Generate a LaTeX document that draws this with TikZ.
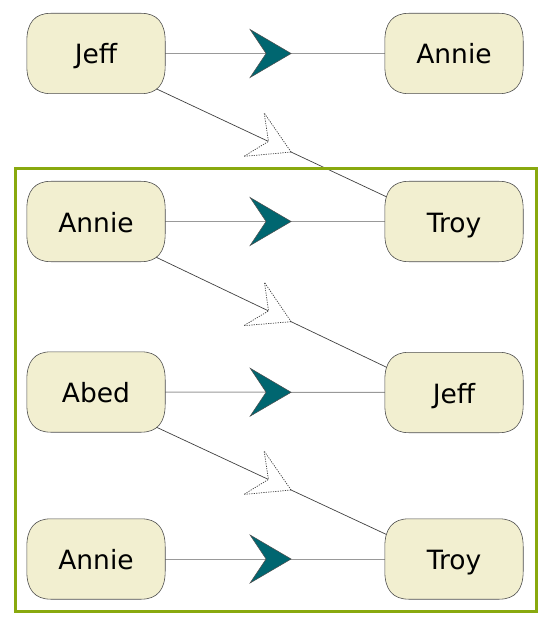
\documentclass[tikz,border=0pt]{standalone}
\usepackage{fontspec}
\setmainfont{DejaVu Sans}
\usetikzlibrary{decorations.markings,backgrounds}
\definecolor{nodefill}{HTML}{F2EFD0}
\definecolor{nodeline}{HTML}{4D4D4D}
\definecolor{arrowteal}{HTML}{006670}
\definecolor{framegreen}{HTML}{89A90F}
\definecolor{hline}{HTML}{999999}
\newcommand\pillpath[1]{%
  ([xshift=24pt]#1.north west) -- ([xshift=-24pt]#1.north east)
  .. controls ([xshift=-8pt]#1.north east) and ([yshift=-9.5pt]#1.north east) .. ([yshift=-28pt]#1.north east)
  -- ([yshift=28pt]#1.south east)
  .. controls ([yshift=9.5pt]#1.south east) and ([xshift=-8pt]#1.south east) .. ([xshift=-24pt]#1.south east)
  -- ([xshift=24pt]#1.south west)
  .. controls ([xshift=8pt]#1.south west) and ([yshift=9.5pt]#1.south west) .. ([yshift=28pt]#1.south west)
  -- ([yshift=-28pt]#1.north west)
  .. controls ([yshift=-9.5pt]#1.north west) and ([xshift=8pt]#1.north west) .. ([xshift=24pt]#1.north west)
  -- cycle}
\begin{document}
\begin{tikzpicture}[x=1pt,y=-1pt,
  person/.style={minimum width=138pt, minimum height=80pt, inner sep=0pt,
    text height=21pt, text depth=0pt,
    font=\fontsize{26.5}{30}\selectfont},
  pill/.style={draw=nodeline, line width=0.6pt, fill=nodefill},
  solidlink/.style={draw=hline, line width=1pt, postaction={decorate},
    decoration={markings, mark=at position 0.545 with {\filldraw[fill=arrowteal, draw=black!70, line width=0.5pt, solid]
      (0pt,0pt) -- (-41pt,24pt) -- (-25pt,0pt) -- (-41pt,-24pt) -- cycle;}}},
  dashlink/.style={draw=black!75, line width=0.7pt, postaction={decorate},
    decoration={markings, mark=at position 0.545 with {\filldraw[fill=white, draw=black!75, dash pattern=on 1.2pt off 1.2pt, line width=0.7pt]
      (0pt,0pt) -- (-41pt,24pt) -- (-25pt,0pt) -- (-41pt,-24pt) -- cycle;}}}
]
\useasboundingbox (0,0) rectangle (552,628);
\draw[framegreen, line width=3pt] (15,168.5) rectangle (536,611.5);

\node[person] (l1) at (96,53.5) {Jeff};
\node[person] (r1) at (454,53.5) {Annie};
\node[person] (l2) at (96,221.5) {Annie};
\node[person] (r2) at (454,221.5) {Troy};
\node[person] (l3) at (96,392) {Abed};
\node[person] (r3) at (454,392.5) {Jeff};
\node[person] (l4) at (96,559) {Annie};
\node[person] (r4) at (454,559) {Troy};

\begin{scope}[on background layer]
  \draw[solidlink] (l1.center) -- (r1.center);
  \draw[solidlink] (l2.center) -- (r2.center);
  \draw[solidlink] (l3.center) -- (r3.center);
  \draw[solidlink] (l4.center) -- (r4.center);
  \draw[dashlink] ([yshift=-7pt]l1.center) -- ([yshift=-7pt]r2.center);
  \draw[dashlink] ([yshift=-7pt]l2.center) -- ([yshift=-7pt]r3.center);
  \draw[dashlink] ([yshift=-7pt]l3.center) -- ([yshift=-7pt]r4.center);
  \foreach \n in {l1,r1,l2,r2,l3,r3,l4,r4}
    \filldraw[pill] \pillpath{\n};
\end{scope}
\end{tikzpicture}
\end{document}
